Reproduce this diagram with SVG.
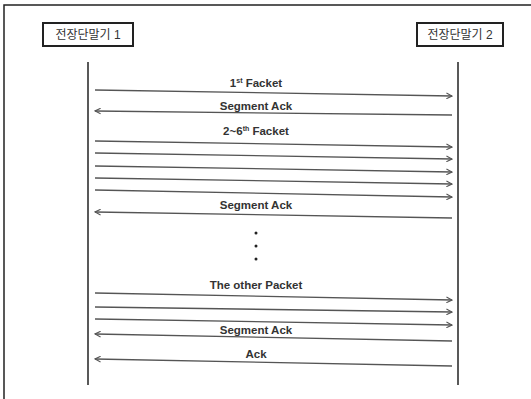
<svg xmlns="http://www.w3.org/2000/svg" width="531" height="399" viewBox="0 0 531 399">
<defs>
<marker id="ah" viewBox="0 0 10 10" refX="9" refY="5" markerWidth="7" markerHeight="7" markerUnits="userSpaceOnUse" orient="auto">
<path d="M1,1 L9,5 L1,9" fill="none" stroke="#555" stroke-width="1.6"/>
</marker>
<style>
.frame{stroke:#222;stroke-width:1.5;fill:none}
.box{fill:#fff;stroke:#222;stroke-width:2}
.life{stroke:#222;stroke-width:1.5}
.msg{stroke:#555;stroke-width:1.3;fill:none;marker-end:url(#ah)}
.nt{font-family:"Liberation Sans","Noto Sans CJK KR",sans-serif;font-size:12px;fill:#333;text-anchor:middle}
.lb{font-family:"Liberation Sans",Arial,sans-serif;font-size:11.5px;font-weight:bold;fill:#333;text-anchor:middle}
.sup{font-size:7px}
</style>
</defs>
<rect width="531" height="399" fill="#fff"/>
<path class="frame" d="M4,399 L4,5 L531,5"/>
<g id="node1">
<rect class="box" x="43" y="23" width="90" height="23"/>
<text class="nt" x="88" y="39">전장단말기 1</text>
</g>
<g id="node2">
<rect class="box" x="417" y="23" width="86" height="23"/>
<text class="nt" x="460" y="39">전장단말기 2</text>
</g>
<g id="lifelines">
<line class="life" x1="88" y1="62" x2="88" y2="385"/>
<line class="life" x1="458" y1="62" x2="458" y2="385"/>
</g>
<g id="connectors">
<path class="msg" d="M95,90 L452,96"/>
<path class="msg" d="M452,115 L95,111"/>
<path class="msg" d="M95,141 L452,147"/>
<path class="msg" d="M95,153 L452,159"/>
<path class="msg" d="M95,166 L452,172"/>
<path class="msg" d="M95,178 L452,184"/>
<path class="msg" d="M95,190 L452,197"/>
<path class="msg" d="M452,218 L95,212"/>
<path class="msg" d="M95,293 L452,300"/>
<path class="msg" d="M95,307 L452,312"/>
<path class="msg" d="M95,319 L452,325"/>
<path class="msg" d="M452,341 L95,334"/>
<path class="msg" d="M452,366 L95,359"/>
</g>
<g id="labels">
<text class="lb" x="256" y="87">1<tspan class="sup" dy="-4">st</tspan><tspan dy="4"> Facket</tspan></text>
<text class="lb" x="256" y="110">Segment Ack</text>
<text class="lb" x="256" y="135">2~6<tspan class="sup" dy="-4">th</tspan><tspan dy="4"> Facket</tspan></text>
<text class="lb" x="256" y="209">Segment Ack</text>
<text class="lb" x="256" y="289">The other Packet</text>
<text class="lb" x="256" y="334">Segment Ack</text>
<text class="lb" x="256" y="358">Ack</text>
</g>
<g id="dots" fill="#222">
<circle cx="256" cy="233" r="1.5"/>
<circle cx="256" cy="246" r="1.5"/>
<circle cx="256" cy="259" r="1.5"/>
</g>
</svg>
